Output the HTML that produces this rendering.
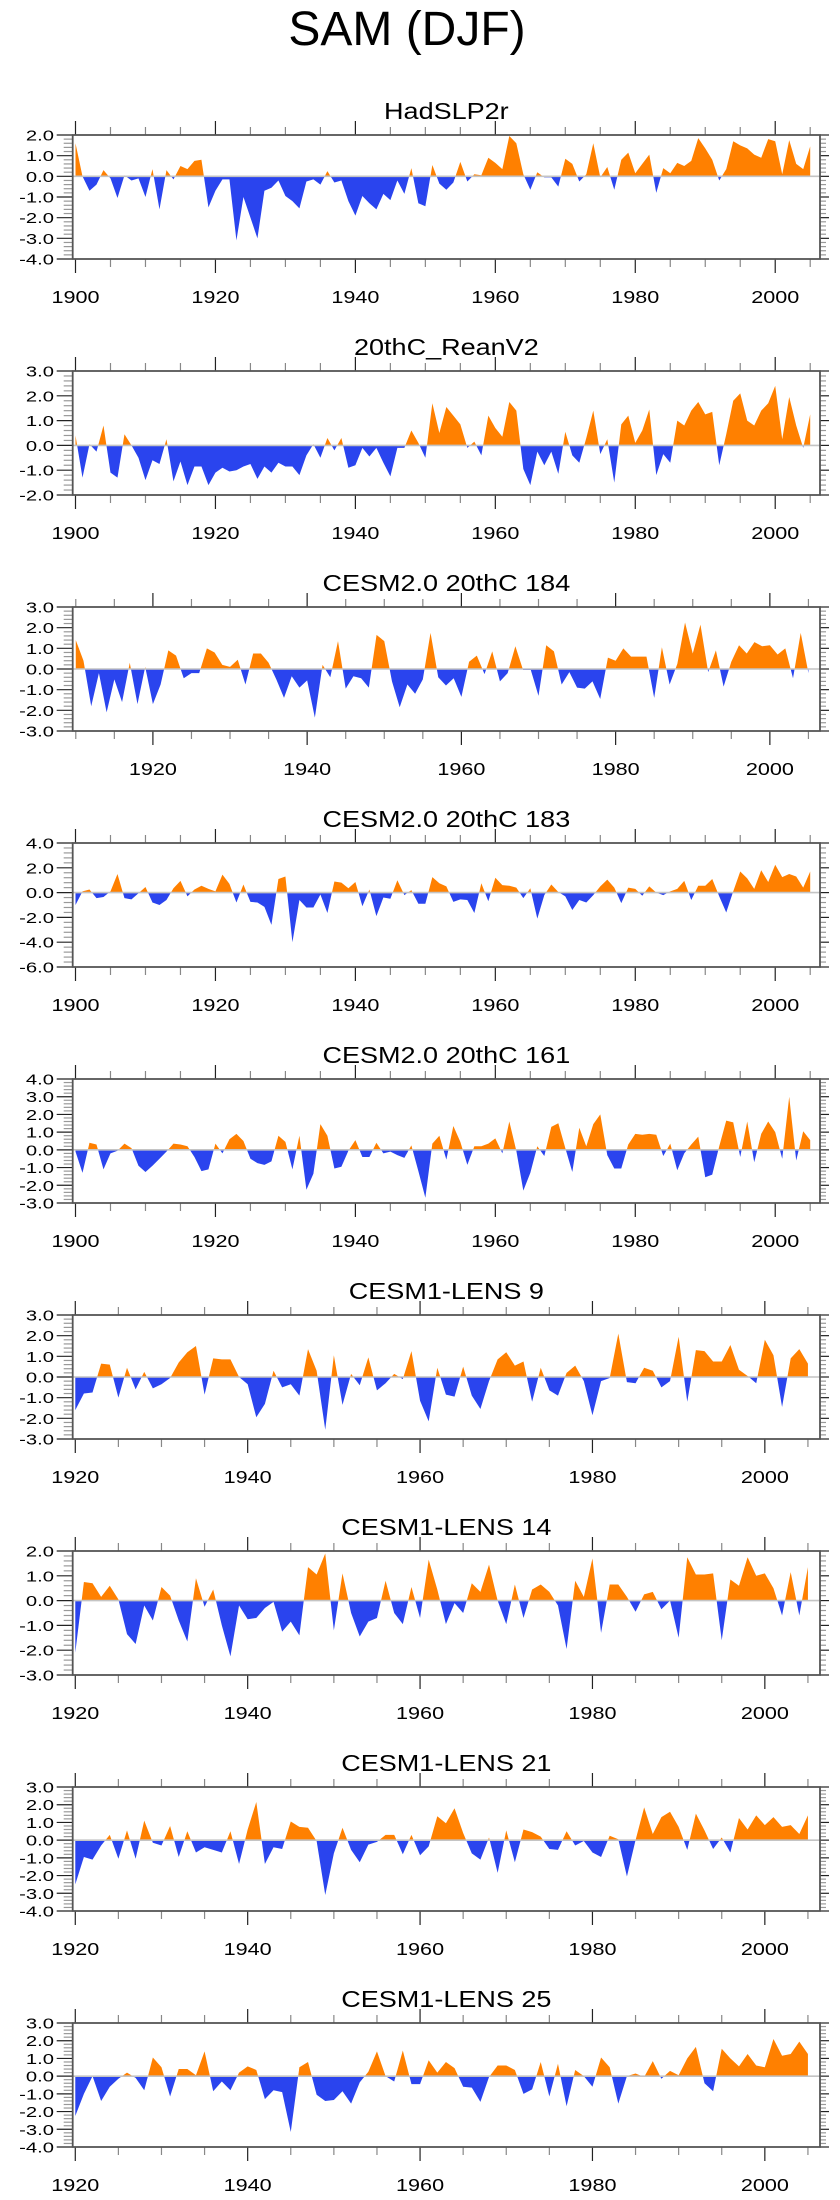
<!DOCTYPE html>
<html><head><meta charset="utf-8"><style>
html,body{margin:0;padding:0;background:#fff;}
svg{display:block;font-family:"Liberation Sans",Arial,sans-serif;}
</style></head><body>
<svg id="chart" width="840" height="2200" viewBox="0 0 840 2200" xmlns="http://www.w3.org/2000/svg">
<text x="407" y="45" font-size="48" text-anchor="middle" fill="#000">SAM (DJF)</text>
</svg>
<script>
const hadslp2r = [1.6,0.0,-0.7,-0.4,0.3,-0.1,-1.05,0.05,-0.2,-0.1,-1.0,0.35,-1.6,0.3,-0.15,0.5,0.35,0.75,0.8,-1.5,-0.7,-0.15,-0.15,-3.1,-1.0,-2.0,-3.0,-0.7,-0.55,-0.2,-0.95,-1.2,-1.55,-0.25,-0.15,-0.4,0.25,-0.3,-0.2,-1.2,-1.9,-0.95,-1.3,-1.6,-0.85,-1.15,-0.2,-0.85,0.4,-1.3,-1.45,0.55,-0.35,-0.65,-0.3,0.7,-0.25,0.1,0.05,0.9,0.65,0.35,1.95,1.6,0.1,-0.65,0.2,-0.05,-0.05,-0.5,0.85,0.6,-0.25,0.1,1.6,-0.05,0.45,-0.65,0.8,1.15,0.15,0.6,1.05,-0.8,0.4,0.15,0.65,0.5,0.75,1.85,1.35,0.8,-0.2,0.35,1.7,1.5,1.35,1.05,0.9,1.8,1.7,0.1,1.75,0.6,0.35,1.45];
const reanV2 = [0.4,-1.3,0.05,-0.25,0.8,-1.1,-1.3,0.45,0.0,-0.5,-1.4,-0.6,-0.75,0.25,-1.45,-0.65,-1.6,-0.85,-0.85,-1.6,-1.1,-0.9,-1.05,-1.0,-0.85,-0.75,-1.35,-0.85,-1.1,-0.7,-0.85,-0.85,-1.2,-0.4,0.05,-0.5,0.3,-0.2,0.3,-0.9,-0.8,-0.1,-0.45,-0.1,-0.7,-1.25,-0.1,-0.1,0.6,0.1,-0.5,1.7,0.5,1.55,1.2,0.85,-0.1,0.15,-0.4,1.2,0.7,0.35,1.75,1.4,-0.95,-1.6,-0.25,-0.8,-0.25,-1.15,0.55,-0.4,-0.7,0.3,1.4,-0.35,0.25,-1.5,0.85,1.2,0.1,0.6,1.45,-1.2,-0.35,-0.7,1.0,0.8,1.4,1.75,1.25,1.35,-0.8,0.45,1.8,2.1,1.0,0.8,1.4,1.7,2.4,0.25,1.95,0.8,-0.1,1.25];
const cesm2_184 = [1.4,0.4,-1.8,-0.2,-2.1,-0.5,-1.6,0.3,-1.7,0.1,-1.7,-0.75,0.9,0.65,-0.45,-0.2,-0.2,1.0,0.8,0.2,0.1,0.45,-0.75,0.75,0.75,0.3,-0.5,-1.4,-0.35,-0.9,-0.55,-2.35,0.2,-0.4,1.35,-0.95,-0.35,-0.45,-0.9,1.65,1.35,-0.6,-1.85,-0.75,-1.2,-0.5,1.75,-0.4,-0.8,-0.45,-1.35,0.35,0.65,-0.25,0.85,-0.6,-0.2,1.1,-0.05,-0.05,-1.3,1.15,0.85,-0.75,-0.15,-0.9,-0.95,-0.6,-1.45,0.55,0.4,1.0,0.6,0.6,0.6,-1.4,1.05,-0.75,0.25,2.25,0.75,2.15,-0.15,0.9,-0.85,0.35,1.15,0.75,1.3,1.1,1.15,0.7,1.0,-0.45,1.75,-0.2];
const cesm2_183 = [-1.0,0.1,0.25,-0.45,-0.35,0.1,1.5,-0.45,-0.55,-0.05,0.45,-0.8,-1.0,-0.6,0.35,0.95,-0.3,0.25,0.55,0.3,0.1,1.45,0.7,-0.8,0.65,-0.75,-0.8,-1.15,-2.6,1.1,1.3,-4.0,-0.6,-1.2,-1.2,-0.15,-1.65,0.9,0.8,0.35,0.85,-1.1,0.25,-1.9,-0.4,-0.5,1.0,-0.2,0.2,-0.9,-0.9,1.25,0.75,0.5,-0.75,-0.55,-0.6,-1.65,0.75,-0.7,1.2,0.6,0.55,0.4,-0.45,0.35,-2.1,-0.2,0.65,0.05,-0.3,-1.4,-0.6,-0.8,-0.2,0.5,1.05,0.4,-0.85,0.4,0.3,-0.25,0.5,0.0,-0.2,0.1,0.3,0.95,-0.6,0.55,0.55,1.1,-0.3,-1.6,0.1,1.7,1.15,0.3,1.8,0.85,2.25,1.25,1.5,1.3,0.4,1.7];
const cesm2_161 = [-0.1,-1.3,0.4,0.3,-1.1,-0.2,-0.05,0.35,0.1,-0.9,-1.25,-0.9,-0.5,-0.1,0.35,0.3,0.2,-0.4,-1.2,-1.1,0.35,-0.2,0.6,0.9,0.5,-0.5,-0.75,-0.85,-0.65,0.8,0.45,-1.1,0.8,-2.25,-1.35,1.45,0.8,-1.05,-0.95,-0.05,0.55,-0.4,-0.4,0.4,-0.2,-0.1,-0.3,-0.45,0.25,-1.2,-2.7,0.35,0.8,-0.55,1.35,0.45,-0.85,0.2,0.2,0.35,0.65,-0.2,1.6,-0.05,-2.3,-1.3,0.2,-0.35,1.3,1.5,0.1,-1.25,1.25,0.2,1.45,2.0,-0.3,-1.05,-1.05,0.3,0.9,0.85,0.9,0.85,-0.35,0.35,-1.15,-0.2,0.3,0.75,-1.55,-1.4,0.2,1.65,1.55,-0.4,1.6,-0.7,0.9,1.6,1.0,-0.5,3.0,-0.6,1.05,0.55];
const lens9 = [-1.6,-0.8,-0.75,0.65,0.6,-1.0,0.45,-0.6,0.25,-0.55,-0.35,-0.05,0.7,1.2,1.5,-0.85,0.9,0.85,0.85,0.0,-0.35,-1.95,-1.3,0.3,-0.5,-0.35,-0.9,1.35,0.3,-2.55,1.05,-1.35,0.15,-0.4,0.95,-0.65,-0.3,0.15,-0.1,1.25,-1.15,-2.15,0.45,-0.85,-0.95,0.5,-0.9,-1.55,-0.2,0.85,1.2,0.55,0.75,-1.2,0.45,-0.65,-0.9,0.2,0.55,-0.2,-1.85,-0.2,-0.05,2.1,-0.25,-0.3,0.45,0.3,-0.5,-0.2,1.95,-1.2,1.3,1.25,0.75,0.75,1.55,0.35,0.05,-0.3,1.8,1.05,-1.45,0.9,1.35,0.65];
const lens14 = [-2.1,0.75,0.7,0.15,0.6,0.05,-1.35,-1.75,-0.2,-0.8,0.55,0.2,-0.8,-1.65,0.9,-0.25,0.45,-1.0,-2.25,-0.2,-0.75,-0.7,-0.3,-0.05,-1.25,-0.85,-1.4,1.35,1.05,1.9,-1.2,1.1,-0.5,-1.45,-0.85,-0.7,0.8,-0.5,-0.95,0.55,-0.7,1.65,0.45,-0.95,-0.1,-0.5,0.7,0.35,1.45,0.0,-0.95,0.65,-0.7,0.45,0.65,0.35,-0.2,-1.95,0.8,0.15,1.7,-1.3,0.65,0.65,0.15,-0.45,0.25,0.35,-0.35,0.0,-1.5,1.75,1.05,1.05,1.1,-1.6,0.85,0.6,1.75,1.0,1.1,0.5,-0.6,1.15,-0.6,1.35];
const lens21 = [-2.5,-0.95,-1.1,-0.3,0.3,-1.05,0.55,-1.05,1.1,-0.15,-0.3,0.8,-0.95,0.5,-0.7,-0.4,-0.55,-0.7,0.5,-1.35,0.6,2.15,-1.35,-0.4,-0.5,1.05,0.75,0.7,-0.05,-3.1,-0.75,0.7,-0.55,-1.25,-0.25,-0.1,0.3,0.3,-0.8,0.3,-0.85,-0.35,1.35,0.95,1.8,0.4,-0.75,-1.1,0.15,-1.85,0.55,-1.25,0.6,0.45,0.2,-0.5,-0.55,0.5,-0.3,-0.05,-0.7,-0.95,0.25,0.05,-2.05,0.0,1.85,0.35,1.3,1.6,0.75,-0.55,1.5,0.55,-0.5,0.15,-0.7,1.25,0.6,1.4,0.85,1.3,0.75,0.85,0.35,1.4];
const lens25 = [-2.25,-1.0,0.0,-1.4,-0.6,-0.15,0.2,-0.1,-0.8,1.05,0.5,-1.15,0.4,0.4,0.05,1.4,-0.85,-0.3,-0.8,0.2,0.55,0.35,-1.3,-0.8,-0.9,-3.15,0.5,0.8,-1.05,-1.4,-1.35,-0.85,-1.55,-0.35,0.25,1.4,0.0,-0.3,1.45,-0.45,-0.45,0.9,0.2,0.8,0.45,-0.6,-0.65,-1.45,-0.05,0.6,0.6,0.35,-1.0,-0.75,0.8,-1.15,0.7,-1.7,0.35,0.0,-0.6,1.05,0.5,-1.55,0.0,0.15,-0.05,0.85,-0.15,0.3,0.05,1.0,1.65,-0.4,-0.85,1.55,1.0,0.55,1.25,0.6,0.5,2.1,1.15,1.25,1.95,1.25];

const titles = ["HadSLP2r","20thC_ReanV2","CESM2.0 20thC 184","CESM2.0 20thC 183","CESM2.0 20thC 161","CESM1-LENS 9","CESM1-LENS 14","CESM1-LENS 21","CESM1-LENS 25"];
const startYears = [1900,1900,1910,1900,1900,1920,1920,1920,1920];
const yMins = [-4,-2,-3,-6,-3,-3,-3,-4,-4];
const yMaxs = [2,3,3,4,4,3,2,3,3];
const ySteps = [1,1,1,2,1,1,1,1,1];
const series = [hadslp2r, reanV2, cesm2_184, cesm2_183, cesm2_161, lens9, lens14, lens21, lens25];
const panelNames = ["hadslp2r","20thc-reanv2","cesm2-184","cesm2-183","cesm2-161","lens-9","lens-14","lens-21","lens-25"];

const NS = "http://www.w3.org/2000/svg";
const svg = document.getElementById('chart');
const L = 72.7, R = 820, H = 124, TOP0 = 135, GAP = 236;
const ORANGE = "#ff8000", BLUE = "#2a44ee";

function mk(tag, attrs, parent){
  const e = document.createElementNS(NS, tag);
  for (const k in attrs) e.setAttribute(k, attrs[k]);
  parent.appendChild(e);
  return e;
}
function txt(parent, s, x, y, size, sx, anchor){
  const t = mk('text', {transform:`translate(${x},${y}) scale(${sx},1)`, 'font-size':size, 'text-anchor':anchor, fill:'#000'}, parent);
  t.textContent = s;
  return t;
}

series.forEach((vals, i) => {
  const top = TOP0 + GAP*i, bot = top + H;
  const start = startYears[i], end = start + vals.length - 1;
  const xmin = start === 1900 ? 1899.6 : (start === 1910 ? 1909.6 : 1919.7);
  const xmax = start === 1910 ? 2006.5 : 2006.4;
  const ymin = yMins[i], ymax = yMaxs[i], ystep = ySteps[i];
  const X = yr => L + (yr - xmin) / (xmax - xmin) * (R - L);
  const Y = v => top + (ymax - v) / (ymax - ymin) * H;

  const g = mk('g', {}, svg);
  
  

  const tt = txt(g, titles[i], (L+R)/2, top - 16, 23.5, 1.15, 'middle');
  
  

  const y0 = Y(0);
  let d = '';
  vals.forEach((v, k) => { d += (k ? ' L' : 'M') + X(start + k).toFixed(2) + ',' + Y(v).toFixed(2); });
  d += ' L' + X(end).toFixed(2) + ',' + y0.toFixed(2) + ' L' + X(start).toFixed(2) + ',' + y0.toFixed(2) + ' Z';

  const defs = mk('defs', {}, g);
  const cpA = mk('clipPath', {id:'ca'+i}, defs);
  mk('rect', {x:L, y:top, width:R-L, height:y0-top}, cpA);
  const cpB = mk('clipPath', {id:'cb'+i}, defs);
  mk('rect', {x:L, y:y0, width:R-L, height:bot-y0}, cpB);

  const pos = mk('path', {d:d, fill:ORANGE, 'clip-path':`url(#ca${i})`}, g);
  
  
  const neg = mk('path', {d:d, fill:BLUE, 'clip-path':`url(#cb${i})`}, g);
  
  

  const zl = mk('line', {x1:L, x2:R, y1:y0, y2:y0, stroke:'#c4c4c4', 'stroke-width':1.6}, g);
  
  

  // y ticks
  const nMinor = 5;
  const mstep = ystep / nMinor;
  for (let k = 0; k <= Math.round((ymax - ymin) / mstep); k++){
    const v = ymin + k * mstep, yy = Y(v);
    const major = k % nMinor === 0;
    mk('line', {x1:L-(major?16:9), x2:L, y1:yy, y2:yy, stroke:major?'#222':'#999', 'stroke-width':1.2}, g);
    mk('line', {x1:R, x2:R+(major?9:6), y1:yy, y2:yy, stroke:major?'#222':'#999', 'stroke-width':1.2}, g);
    if (major){
      const lab = txt(g, v.toFixed(1), 54, yy + 5.5, 15, 1.35, 'end');
      
      
    }
  }
  // x ticks
  const tick0 = Math.ceil(xmin / 5) * 5;
  for (let yr = tick0; yr <= xmax; yr += 5){
    const xx = X(yr);
    const major = yr % 20 === 0;
    mk('line', {x1:xx, x2:xx, y1:top-(major?14:8), y2:top, stroke:major?'#222':'#888', 'stroke-width':1.2}, g);
    mk('line', {x1:xx, x2:xx, y1:bot, y2:bot+(major?14:8), stroke:major?'#222':'#888', 'stroke-width':1.2}, g);
    if (major){
      const lab = txt(g, String(yr), xx, bot + 44, 18, 1.2, 'middle');
      
      
    }
  }
  const fr = mk('rect', {x:L, y:top, width:R-L, height:H, fill:'none', stroke:'#555', 'stroke-width':1.8}, g);
  
  
});
</script>
</body></html>
